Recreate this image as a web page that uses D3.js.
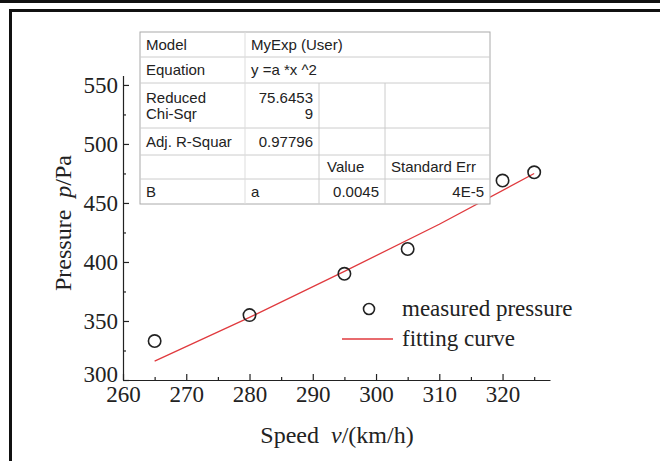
<!DOCTYPE html>
<html>
<head>
<meta charset="utf-8">
<script src="https://cdn.jsdelivr.net/npm/d3@7"></script>
<style>
  body { margin: 0; background: #fff; }
  svg { display: block; }
</style>
</head>
<body>
<svg width="660" height="461"></svg>
<script>
// measured data
var speed = [265, 280, 295, 305, 320, 325];
var pressure = [333, 355, 390, 411, 469, 476];

// fitted curve, y = a*x^2
var fitSpeed = [265, 280, 295, 310, 325];
var fitPressure = [316, 353, 392, 432, 475];

// axis ticks
var xTicks = [260, 270, 280, 290, 300, 310, 320];
var xMinor = [265, 275, 285, 295, 305, 315, 325];
var yTicks = [300, 350, 400, 450, 500, 550];
var yMinor = [325, 375, 425, 475, 525];

// fit report table
var tableRows = [
  ["Model", "MyExp (User)", "", ""],
  ["Equation", "y =a *x ^2", "", ""],
  ["Reduced\nChi-Sqr", "75.6453\n9", "", ""],
  ["Adj. R-Squar", "0.97796", "", ""],
  ["", "", "Value", "Standard Err"],
  ["B", "a", "0.0045", "4E-5"]
];

var serif = "'Liberation Serif', 'Times New Roman', serif";
var sans = "'Liberation Sans', Arial, sans-serif";

var svg = d3.select("svg");

// frame bits
svg.append("rect").attr("x", 0).attr("y", 0).attr("width", 660).attr("height", 3).attr("fill", "#111");
svg.append("line").attr("x1", 9).attr("x2", 660).attr("y1", 10.5).attr("y2", 10.5)
    .attr("stroke", "#111").attr("stroke-width", 3);
svg.append("line").attr("x1", 10.5).attr("x2", 10.5).attr("y1", 9).attr("y2", 461)
    .attr("stroke", "#111").attr("stroke-width", 3);

var x = d3.scaleLinear().domain([260, 327.5]).range([123, 550]);
var y = d3.scaleLinear().domain([300, 558]).range([380, 75.5]);

// x axis
var gx = svg.append("g").attr("transform", "translate(0,380)");
gx.call(d3.axisBottom(x).tickValues(xTicks).tickSizeInner(-6).tickSizeOuter(0).tickPadding(6));
gx.append("g").call(d3.axisBottom(x).tickValues(xMinor).tickSize(-3).tickFormat(""))
  .select(".domain").remove();

// y axis
var gy = svg.append("g").attr("transform", "translate(123,0)");
gy.call(d3.axisLeft(y).tickValues(yTicks).tickSizeInner(-6).tickSizeOuter(0).tickPadding(5));
gy.append("g").call(d3.axisLeft(y).tickValues(yMinor).tickSize(-3).tickFormat(""))
  .select(".domain").remove();

svg.selectAll(".domain, .tick line").attr("stroke", "#222").attr("stroke-width", 1.2);
svg.selectAll(".tick text").attr("font-family", serif).attr("font-size", 23).attr("fill", "#222");
// the 300 label sits a little high so it clears the 260 label
gy.selectAll(".tick text").filter(function(d) { return d === 300; }).attr("dy", "0.05em");

// axis titles
var xt = svg.append("text").attr("x", 337).attr("y", 443).attr("text-anchor", "middle")
    .attr("font-family", serif).attr("font-size", 24).attr("fill", "#222");
xt.append("tspan").text("Speed\u00a0\u00a0");
xt.append("tspan").attr("font-style", "italic").text("v");
xt.append("tspan").text("/(km/h)");

var yt = svg.append("text").attr("transform", "translate(71,223) rotate(-90)").attr("text-anchor", "middle")
    .attr("font-family", serif).attr("font-size", 24).attr("fill", "#222");
yt.append("tspan").text("Pressure\u00a0\u00a0");
yt.append("tspan").attr("font-style", "italic").text("p");
yt.append("tspan").text("/Pa");

// fit line
var line = d3.line().x(function(d, i) { return x(fitSpeed[i]); }).y(function(d) { return y(d); });
svg.append("path").datum(fitPressure).attr("d", line)
    .attr("fill", "none").attr("stroke", "#e03a3e").attr("stroke-width", 1.3);

// measured points
svg.append("g").selectAll("circle")
  .data(pressure)
  .enter().append("circle")
    .attr("cx", function(d, i) { return x(speed[i]); })
    .attr("cy", function(d) { return y(d); })
    .attr("r", 6.2)
    .attr("fill", "none")
    .attr("stroke", "#222")
    .attr("stroke-width", 1.6);

// legend
var legend = svg.append("g").attr("font-family", serif).attr("font-size", 23).attr("fill", "#222");
legend.append("circle").attr("cx", 369).attr("cy", 309).attr("r", 5.5)
    .attr("fill", "none").attr("stroke", "#222").attr("stroke-width", 1.6);
legend.append("text").attr("x", 402).attr("y", 316).text("measured pressure");
legend.append("line").attr("x1", 342).attr("x2", 393).attr("y1", 339).attr("y2", 339)
    .attr("stroke", "#e03a3e").attr("stroke-width", 1.3);
legend.append("text").attr("x", 402).attr("y", 346).text("fitting curve");

// table
var colX = [140, 245, 319, 385, 490];
var rowY = [32, 57, 83, 128, 155, 179, 204];
var tbl = svg.append("g").attr("font-family", sans).attr("font-size", 15).attr("fill", "#222");

tbl.append("rect").attr("x", colX[0]).attr("y", rowY[0])
    .attr("width", colX[4] - colX[0]).attr("height", rowY[6] - rowY[0])
    .attr("fill", "#fff").attr("stroke", "#aaa").attr("stroke-width", 1);

tbl.selectAll("line.row").data(rowY.slice(1, 6)).enter().append("line")
    .attr("x1", colX[0]).attr("x2", colX[4])
    .attr("y1", function(d) { return d; }).attr("y2", function(d) { return d; })
    .attr("stroke", "#ccc");
tbl.append("line").attr("x1", colX[1]).attr("x2", colX[1]).attr("y1", rowY[0]).attr("y2", rowY[6]).attr("stroke", "#ddd");
[2, 3].forEach(function(c) {
  tbl.append("line").attr("x1", colX[c]).attr("x2", colX[c]).attr("y1", rowY[2]).attr("y2", rowY[6]).attr("stroke", "#ccc");
});

tableRows.forEach(function(row, r) {
  var yc = (rowY[r] + rowY[r + 1]) / 2;
  row.forEach(function(cell, c) {
    if (!cell) return;
    var lines = cell.split("\n");
    var right = (c === 1 && r >= 2 && r <= 3) || (c >= 2 && r === 5);
    var tx = right ? colX[c + 1] - 6 : colX[c] + 6;
    if (c === 2 && r === 4) tx = colX[c] + 8;
    lines.forEach(function(s, k) {
      tbl.append("text")
        .attr("x", tx)
        .attr("y", yc + (k - (lines.length - 1) / 2) * 16)
        .attr("dy", "0.36em")
        .attr("text-anchor", right ? "end" : "start")
        .text(s);
    });
  });
});
</script>
</body>
</html>
